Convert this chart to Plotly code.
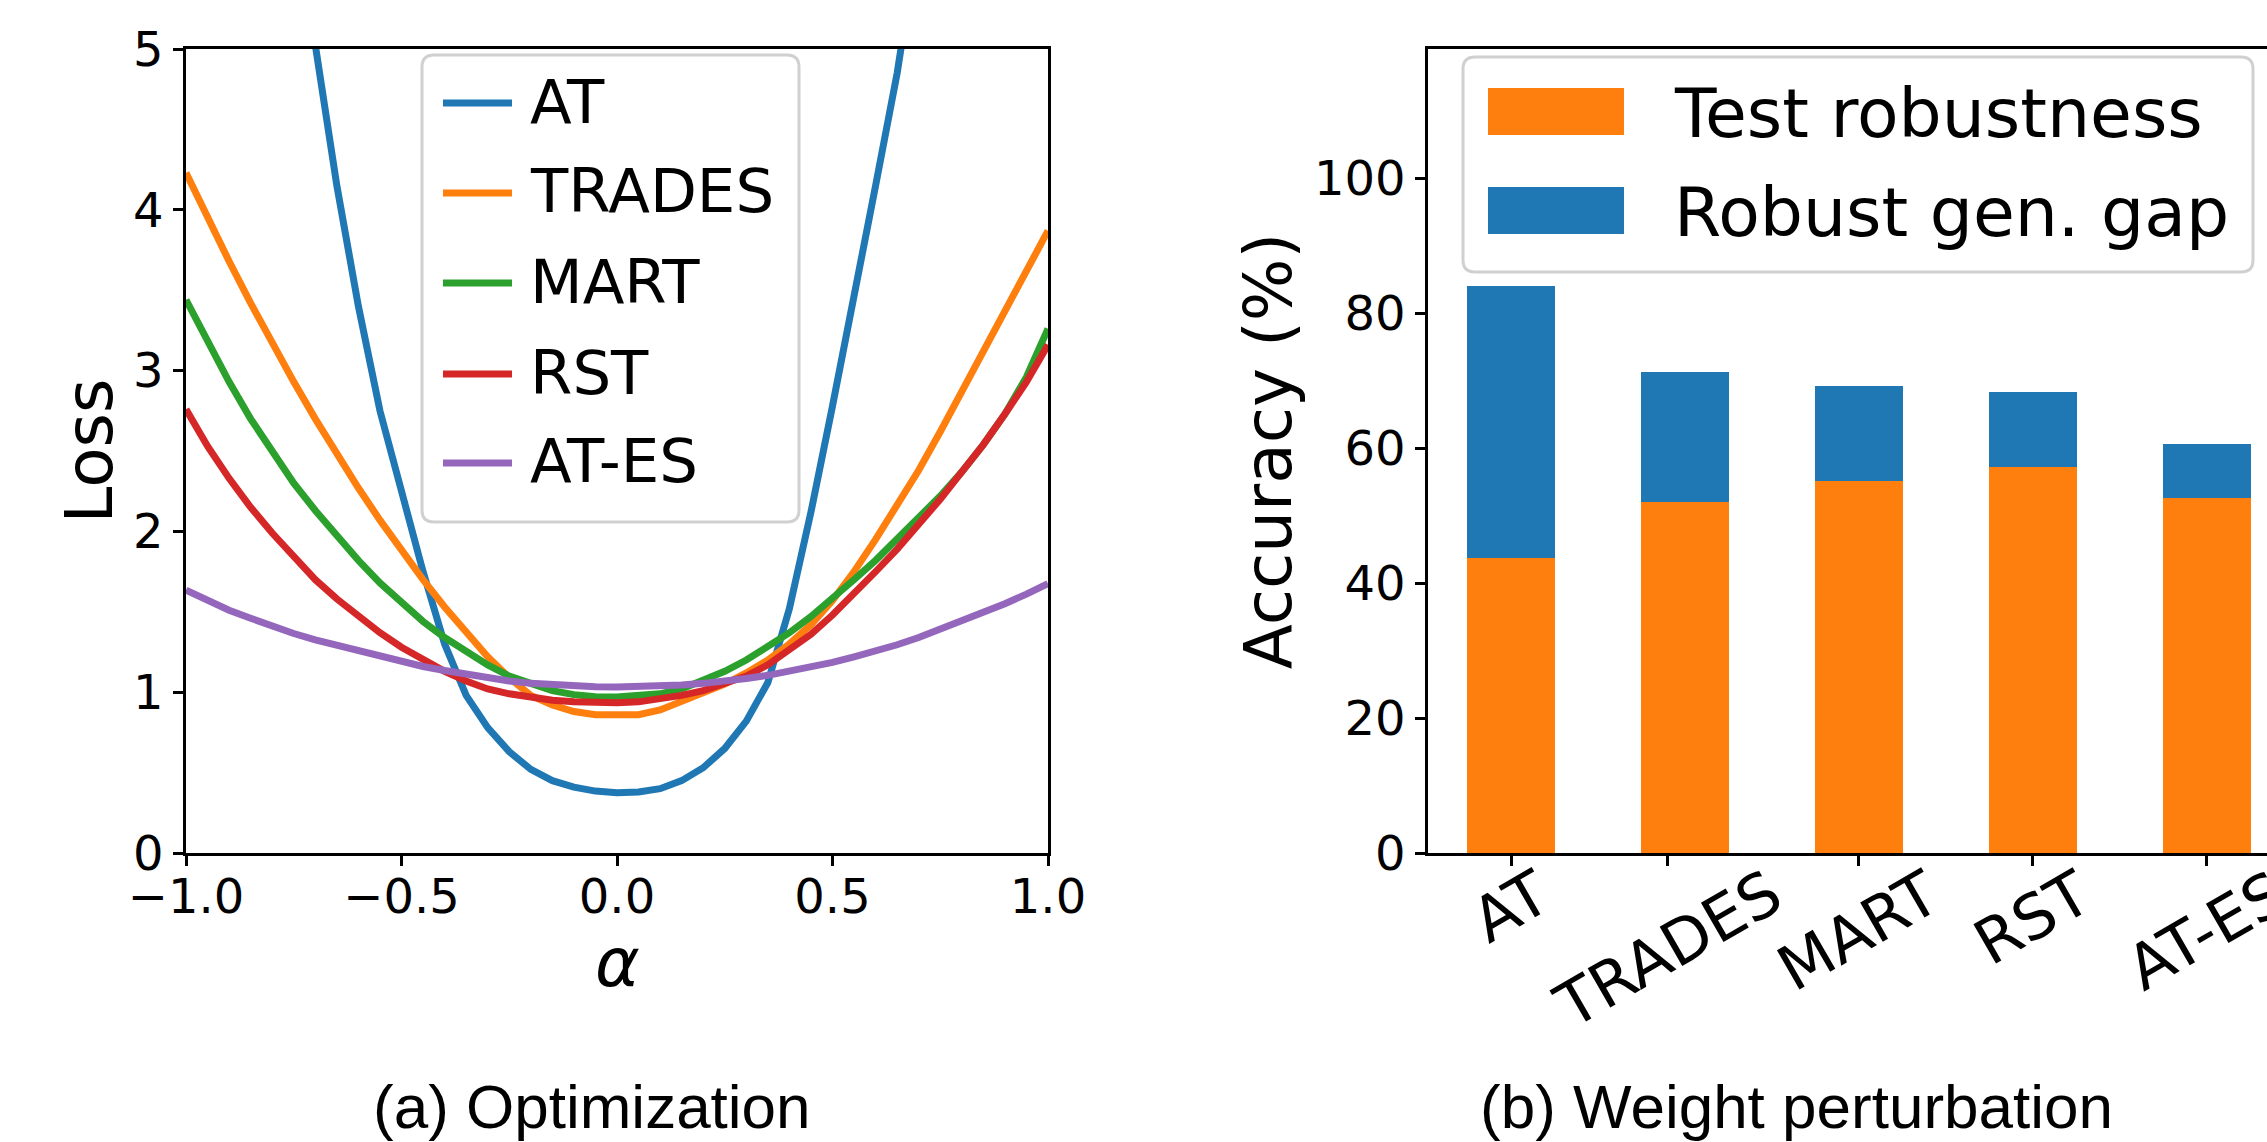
import plotly.graph_objects as go

# ---------------- data ----------------
alpha = [-1.0, -0.95, -0.9, -0.85, -0.8, -0.75, -0.7, -0.65, -0.6, -0.55, -0.5,
         -0.45, -0.4, -0.35, -0.3, -0.25, -0.2, -0.15, -0.1, -0.05, 0.0,
         0.05, 0.1, 0.15, 0.2, 0.25, 0.3, 0.35, 0.4, 0.45, 0.5,
         0.55, 0.6, 0.65, 0.7, 0.75, 0.8, 0.85, 0.9, 0.95, 1.0]

loss_at = [11.0, 9.9, 8.8, 7.8, 6.8, 5.9, 5.0, 4.15, 3.4, 2.75, 2.25,
           1.75, 1.3, 0.98, 0.78, 0.63, 0.52, 0.45, 0.41, 0.385, 0.375,
           0.38, 0.40, 0.45, 0.53, 0.65, 0.82, 1.06, 1.52, 2.12, 2.78,
           3.45, 4.15, 4.85, 5.6, 6.4, 7.2, 8.1, 9.0, 10.0, 11.0]
loss_trades = [4.23, 3.95, 3.68, 3.42, 3.17, 2.93, 2.70, 2.48, 2.27, 2.07, 1.88,
               1.70, 1.53, 1.37, 1.22, 1.09, 0.98, 0.92, 0.88, 0.86, 0.855,
               0.86, 0.89, 0.94, 0.99, 1.05, 1.12, 1.20, 1.30, 1.42, 1.57,
               1.75, 1.95, 2.16, 2.38, 2.62, 2.87, 3.13, 3.39, 3.64, 3.87]
loss_mart = [3.44, 3.18, 2.93, 2.70, 2.49, 2.30, 2.13, 1.97, 1.82, 1.68, 1.56,
             1.44, 1.34, 1.25, 1.17, 1.10, 1.05, 1.01, 0.985, 0.972, 0.97,
             0.975, 0.99, 1.02, 1.07, 1.13, 1.20, 1.28, 1.37, 1.47, 1.58,
             1.70, 1.82, 1.95, 2.08, 2.22, 2.37, 2.54, 2.73, 2.96, 3.26]
loss_rst = [2.76, 2.53, 2.33, 2.15, 1.99, 1.84, 1.70, 1.58, 1.47, 1.37, 1.28,
            1.20, 1.13, 1.07, 1.02, 0.99, 0.965, 0.95, 0.94, 0.935, 0.935,
            0.94, 0.955, 0.98, 1.01, 1.05, 1.10, 1.17, 1.26, 1.36, 1.48,
            1.61, 1.75, 1.89, 2.04, 2.20, 2.37, 2.54, 2.73, 2.93, 3.16]
loss_ates = [1.635, 1.57, 1.51, 1.46, 1.41, 1.365, 1.325, 1.29, 1.255, 1.22, 1.19,
             1.16, 1.135, 1.11, 1.09, 1.07, 1.055, 1.045, 1.038, 1.034, 1.033,
             1.034, 1.038, 1.045, 1.055, 1.068, 1.085, 1.105, 1.128, 1.155, 1.185,
             1.22, 1.255, 1.295, 1.34, 1.39, 1.44, 1.495, 1.55, 1.61, 1.675]

series_names = ["AT", "TRADES", "MART", "RST", "AT-ES"]
series_values = [loss_at, loss_trades, loss_mart, loss_rst, loss_ates]
series_colors = ["#1f77b4", "#ff7f0e", "#2ca02c", "#d62728", "#9467bd"]

methods = ["AT", "TRADES", "MART", "RST", "AT-ES"]
test_robustness = [43.7, 52.1, 55.1, 57.2, 52.7]
robust_gen_gap = [40.3, 19.2, 14.1, 11.2, 8.0]
# tick positions of the category labels as drawn in the reference (TRADES sits slightly left)
method_tick_pos = [0, 0.9, 2, 3, 4]

left_xticks = [-1.0, -0.5, 0.0, 0.5, 1.0]
left_yticks = [0, 1, 2, 3, 4, 5]
right_yticks = [0, 20, 40, 60, 80, 100]

# ---------------- layout helpers ----------------
W, H = 2267, 1142
FONT = "DejaVu Sans"


def px(x):
    return x / W


def py(y):
    return 1 - y / H


def rounded_box(x0, y0, x1, y1, r):
    # rounded rectangle path in paper coordinates, given pixel coords
    rx, ry = r / W, r / H
    X0, X1 = px(x0), px(x1)
    Y0, Y1 = py(y0), py(y1)  # Y0 top, Y1 bottom
    return (f"M{X0 + rx},{Y0} L{X1 - rx},{Y0} Q{X1},{Y0} {X1},{Y0 - ry} "
            f"L{X1},{Y1 + ry} Q{X1},{Y1} {X1 - rx},{Y1} "
            f"L{X0 + rx},{Y1} Q{X0},{Y1} {X0},{Y1 + ry} "
            f"L{X0},{Y0 - ry} Q{X0},{Y0} {X0 + rx},{Y0} Z")


fig = go.Figure()

for name, vals, col in zip(series_names, series_values, series_colors):
    fig.add_trace(go.Scatter(x=alpha, y=vals, mode="lines", name=name,
                             line=dict(color=col, width=7),
                             xaxis="x", yaxis="y", showlegend=False))

fig.add_trace(go.Bar(x=methods, y=test_robustness, name="Test robustness",
                     marker=dict(color="#ff7f0e", line=dict(width=0)),
                     width=0.505, xaxis="x2", yaxis="y2", showlegend=False))
fig.add_trace(go.Bar(x=methods, y=robust_gen_gap, name="Robust gen. gap",
                     marker=dict(color="#1f77b4", line=dict(width=0)),
                     width=0.505, xaxis="x2", yaxis="y2", showlegend=False))

axis_common = dict(showline=True, linecolor="black", linewidth=2.5,
                   ticks="outside", ticklen=10, tickwidth=2.5, tickcolor="black",
                   showgrid=False, zeroline=False, automargin=False)

fig.update_layout(
    width=W, height=H,
    margin=dict(l=0, r=0, t=0, b=0, autoexpand=False),
    paper_bgcolor="white", plot_bgcolor="white",
    font=dict(family=FONT, color="black"),
    barmode="stack",
    xaxis=dict(domain=[px(186), px(1048)], anchor="y", range=[-1.0, 1.0],
               tickvals=left_xticks, tickformat=".1f", mirror=True,
               tickfont=dict(size=48), ticklabelstandoff=-10,
               **axis_common),
    yaxis=dict(domain=[py(853), py(49)], anchor="x", range=[0, 5],
               tickvals=left_yticks, mirror=True,
               tickfont=dict(size=48),
               title=dict(text="Loss", font=dict(size=66), standoff=0),
               **axis_common),
    xaxis2=dict(domain=[px(1428), 1.0], anchor="y2", range=[-0.477, 4.345],
                type="category", mirror=True, showticklabels=False,
                tickmode="array", tickvals=method_tick_pos,
                **axis_common),
    yaxis2=dict(domain=[py(853), py(49)], anchor="x2", range=[0, 119.2],
                tickvals=right_yticks, mirror=False,
                tickfont=dict(size=48),
                title=dict(text="Accuracy (%)", font=dict(size=66), standoff=1),
                **axis_common),
)

shapes = []
annotations = []

# x-axis title of left panel
annotations.append(dict(text="<i>α</i>", xref="x", yref="paper",
                        x=0.0, y=py(962), xanchor="center", yanchor="middle",
                        showarrow=False, font=dict(size=68, family=FONT)))

# rotated category labels of right panel (centered under ticks, like the reference)
for m, pos in zip(methods, method_tick_pos):
    annotations.append(dict(text=m, xref="x2", yref="paper",
                            x=pos, y=py(853), xanchor="center", yanchor="top",
                            textangle=-30, showarrow=False,
                            font=dict(size=62, family=FONT)))

# left legend
shapes.append(dict(type="path", xref="paper", yref="paper",
                   path=rounded_box(422, 55, 799, 522, 12),
                   line=dict(color="#d0d0d0", width=3), fillcolor="rgba(255,255,255,0.8)",
                   layer="above"))
row_y = [103, 193, 283, 374, 463]
for name, col, yy in zip(series_names, series_colors, row_y):
    shapes.append(dict(type="line", xref="paper", yref="paper",
                       x0=px(443), x1=px(512), y0=py(yy), y1=py(yy),
                       line=dict(color=col, width=7), layer="above"))
    annotations.append(dict(text=name, xref="paper", yref="paper",
                            x=px(528), y=py(yy - 2), xanchor="left", yanchor="middle",
                            showarrow=False, font=dict(size=61, family=FONT)))

# right legend
shapes.append(dict(type="path", xref="paper", yref="paper",
                   path=rounded_box(1463, 57, 2253, 272, 12),
                   line=dict(color="#d0d0d0", width=3), fillcolor="rgba(255,255,255,0.8)",
                   layer="above"))
for name, col, (y0, y1) in zip(["Test robustness", "Robust gen. gap"],
                               ["#ff7f0e", "#1f77b4"], [(88, 135), (187, 234)]):
    shapes.append(dict(type="rect", xref="paper", yref="paper",
                       x0=px(1488), x1=px(1624), y0=py(y1), y1=py(y0),
                       fillcolor=col, line=dict(width=0), layer="above"))
    annotations.append(dict(text=name, xref="paper", yref="paper",
                            x=px(1672), y=py((y0 + y1) / 2 + 2), xanchor="left",
                            yanchor="middle", showarrow=False,
                            font=dict(size=68, family=FONT)))

# sub-captions
annotations.append(dict(text="(a) Optimization", xref="paper", yref="paper",
                        x=px(592), y=py(1106), xanchor="center", yanchor="middle",
                        showarrow=False,
                        font=dict(size=62, family="Liberation Sans")))
annotations.append(dict(text="(b) Weight perturbation", xref="paper", yref="paper",
                        x=px(1796), y=py(1106), xanchor="center", yanchor="middle",
                        showarrow=False,
                        font=dict(size=62, family="Liberation Sans")))

fig.update_layout(shapes=shapes, annotations=annotations)

fig.write_html("out.html",
               config={"displayModeBar": False},
               post_script="document.body.style.margin='0';"
                           "document.body.style.overflow='hidden';")
